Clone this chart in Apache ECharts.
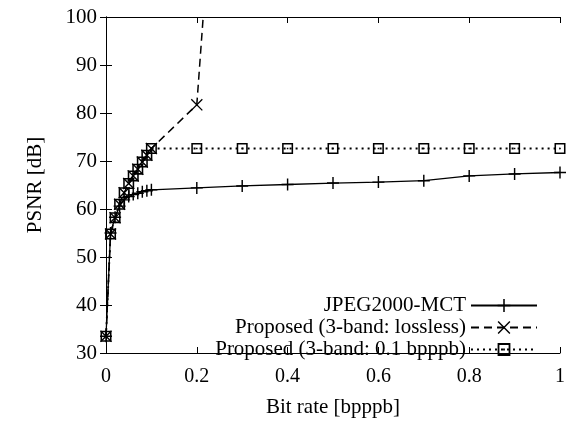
<!DOCTYPE html>
<html>
<head>
<meta charset="utf-8">
<script src="https://cdn.jsdelivr.net/npm/echarts@6/dist/echarts.min.js"></script>
<style>
  html, body { margin: 0; padding: 0; background: #fff; }
  #chart { width: 568px; height: 423px; }
</style>
</head>
<body>
<div id="chart"></div>
<script>
// 数据
const bitRate = [0, 0.01, 0.02, 0.03, 0.04, 0.05, 0.06, 0.07, 0.08, 0.09, 0.1,
  0.2, 0.3, 0.4, 0.5, 0.6, 0.7, 0.8, 0.9, 1.0];
const jpegPsnr = [33.5, 55.0, 58.3, 60.6, 61.9, 62.6, 63.0, 63.3, 63.6, 63.8, 64.0,
  64.4, 64.8, 65.1, 65.4, 65.6, 65.9, 66.9, 67.3, 67.6];
const losslessRate = [0, 0.01, 0.02, 0.03, 0.04, 0.05, 0.06, 0.07, 0.08, 0.09, 0.1, 0.2, 0.3];
const losslessPsnr = [33.5, 54.8, 58.2, 61.0, 63.4, 65.3, 66.9, 68.3, 69.8, 71.2, 72.6, 81.7, 212];
const band01Psnr = [33.5, 54.8, 58.2, 61.0, 63.4, 65.3, 66.9, 68.3, 69.8, 71.2, 72.6,
  72.6, 72.6, 72.6, 72.6, 72.6, 72.6, 72.6, 72.6, 72.6];
const xTicks = [0, 0.2, 0.4, 0.6, 0.8, 1];
const yTicks = [30, 40, 50, 60, 70, 80, 90, 100];

const seriesNames = [
  'JPEG2000-MCT',
  'Proposed (3-band: lossless)',
  'Proposed (3-band: 0.1 bpppb)'
];

const FONT = '"Liberation Serif", "DejaVu Serif", serif';
const PLUS = 'path://M4.4,0H5.6V4.4H10V5.6H5.6V10H4.4V5.6H0V4.4H4.4Z';
const CROSS = 'path://M0,0.8L0.8,0L10,9.2L9.2,10Z M9.2,0L10,0.8L0.8,10L0,9.2Z';
const BOXDOT = 'path://M0,0H10V10H0Z M1.4,1.4V8.6H8.6V1.4Z M4.3,4.3H5.7V5.7H4.3Z';

const zip = (xs, ys) => xs.map((x, i) => [x, ys[i]]);

let myChart = echarts.init(document.getElementById('chart'), null, { renderer: 'canvas' });

const axisCommon = {
  type: 'value',
  axisLine: { show: true, lineStyle: { color: '#000', width: 1 } },
  axisTick: { show: true, inside: true, length: 6, lineStyle: { color: '#000', width: 1 } },
  splitLine: { show: false }
};

const option = {
  backgroundColor: '#fff',
  animation: false,
  textStyle: { fontFamily: FONT, color: '#000' },
  grid: { left: 106, right: 4, top: 17, bottom: 67, containLabel: false },
  legend: {
    orient: 'vertical',
    align: 'right',
    right: 25,
    top: 290,
    itemWidth: 66,
    itemHeight: 16,
    itemGap: 1,
    data: seriesNames,
    textStyle: { fontFamily: FONT, fontSize: 21, color: '#000', lineHeight: 16 }
  },
  xAxis: [
    Object.assign({}, axisCommon, {
      min: xTicks[0], max: xTicks[xTicks.length - 1], interval: 0.2,
      position: 'bottom',
      name: 'Bit rate [bpppb]', nameLocation: 'middle', nameGap: 44,
      nameTextStyle: { fontFamily: FONT, fontSize: 21, color: '#000' },
      axisLabel: { fontFamily: FONT, fontSize: 20, color: '#000', margin: 14 }
    }),
    Object.assign({}, axisCommon, {
      min: xTicks[0], max: xTicks[xTicks.length - 1], interval: 0.2,
      position: 'top',
      axisLabel: { show: false }
    })
  ],
  yAxis: [
    Object.assign({}, axisCommon, {
      min: yTicks[0], max: yTicks[yTicks.length - 1], interval: 10,
      position: 'left',
      name: 'PSNR [dB]', nameLocation: 'middle', nameGap: 60,
      nameTextStyle: { fontFamily: FONT, fontSize: 21, color: '#000' },
      axisLabel: { fontFamily: FONT, fontSize: 21, color: '#000', margin: 9 }
    }),
    Object.assign({}, axisCommon, {
      min: yTicks[0], max: yTicks[yTicks.length - 1], interval: 10,
      position: 'right',
      axisLabel: { show: false }
    })
  ],
  series: [
    {
      name: seriesNames[0],
      type: 'line',
      data: zip(bitRate, jpegPsnr),
      symbol: PLUS,
      symbolSize: 12,
      lineStyle: { color: '#000', width: 1.3, type: 'solid' },
      itemStyle: { color: '#000' }
    },
    {
      name: seriesNames[1],
      type: 'line',
      data: zip(losslessRate, losslessPsnr),
      symbol: CROSS,
      symbolSize: 12,
      clip: true,
      lineStyle: { color: '#000', width: 1.5, type: [8, 5] },
      itemStyle: { color: '#000' }
    },
    {
      name: seriesNames[2],
      type: 'line',
      data: zip(bitRate, band01Psnr),
      symbol: BOXDOT,
      symbolSize: 11,
      lineStyle: { color: '#000', width: 1.8, type: [2, 4] },
      itemStyle: { color: '#000' }
    }
  ]
};

myChart.setOption(option);
</script>
</body>
</html>
